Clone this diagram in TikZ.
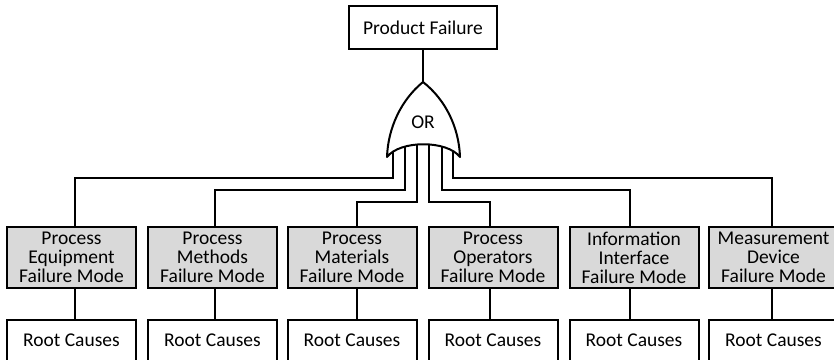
\documentclass[tikz,border=0pt]{standalone}
\usepackage{fontspec}
\setmainfont{Carlito}
\definecolor{modegray}{RGB}{217,217,217}
\begin{document}
\begin{tikzpicture}[x=1pt,y=-1pt,line width=2pt,
  lbl/.style={font=\fontsize{19.5}{19}\selectfont},
  topbox/.style={lbl,draw,fill=white,minimum width=148pt,minimum height=43pt,inner sep=0pt},
  modebox/.style={lbl,draw,fill=modegray,minimum width=129pt,minimum height=61pt,align=center,inner sep=0pt,
    execute at begin node={\rule{0pt}{16pt}}},
  rootbox/.style={lbl,draw,fill=white,minimum width=129pt,anchor=north,inner xsep=0pt,inner ysep=0pt,text height=26pt,text depth=24pt},
  wire/.style={draw,line width=2pt}]
\useasboundingbox (0,0) rectangle (834,359);
\clip (0,0) rectangle (834,359);

% top event
\node[topbox] (top) at (423,27.5) {Product Failure};

% failure mode boxes
\node[modebox] (m1) at (71.5,257.5) {Process\\Equipment\\Failure Mode};
\node[modebox] (m2) at (212.5,257.5) {Process\\Methods\\Failure Mode};
\node[modebox] (m3) at (352,257.5) {Process\\Materials\\Failure Mode};
\node[modebox] (m4) at (493,257.5) {Process\\Operators\\Failure Mode};
\node[modebox] (m5) at (634,257.5) {Information\\Interface\\Failure Mode};
\node[modebox] (m6) at (773.5,257.5) {Measurement\\Device\\Failure Mode};

% root cause boxes
\node[rootbox] (r1) at (71.5,319) {Root Causes};
\node[rootbox] (r2) at (212.5,319) {Root Causes};
\node[rootbox] (r3) at (352,319) {Root Causes};
\node[rootbox] (r4) at (493,319) {Root Causes};
\node[rootbox] (r5) at (634,319) {Root Causes};
\node[rootbox] (r6) at (773.5,319) {Root Causes};

% gate inputs and routing corners
\coordinate (gtip) at (423,82);
\coordinate (o1) at (393,140);
\coordinate (o2) at (405,140);
\coordinate (o3) at (417,140);
\coordinate (o4) at (429,140);
\coordinate (o5) at (442,140);
\coordinate (o6) at (453,140);
\coordinate (k1) at (75,178);
\coordinate (k2) at (215,190);
\coordinate (k3) at (357,202);
\coordinate (k4) at (490,202);
\coordinate (k5) at (630,190);
\coordinate (k6) at (772,178);

\foreach \i in {1,...,6}{
  \draw[wire] (o\i) |- (k\i) -- (k\i |- m\i.north);
  \draw[wire] (m\i.south -| k\i) -- (r\i.north -| k\i);
}

% OR gate
\draw[wire,fill=white,line join=round]
  (gtip) .. controls (401,100) and (388,128) .. (387,157)
  .. controls (400,140) and (447,140) .. (460,157)
  .. controls (459,128) and (446,100) .. (gtip) -- cycle;
\node[lbl] (orlbl) at (423,122) {OR};

\draw[wire] (top.south) -- (gtip);
\end{tikzpicture}
\end{document}
